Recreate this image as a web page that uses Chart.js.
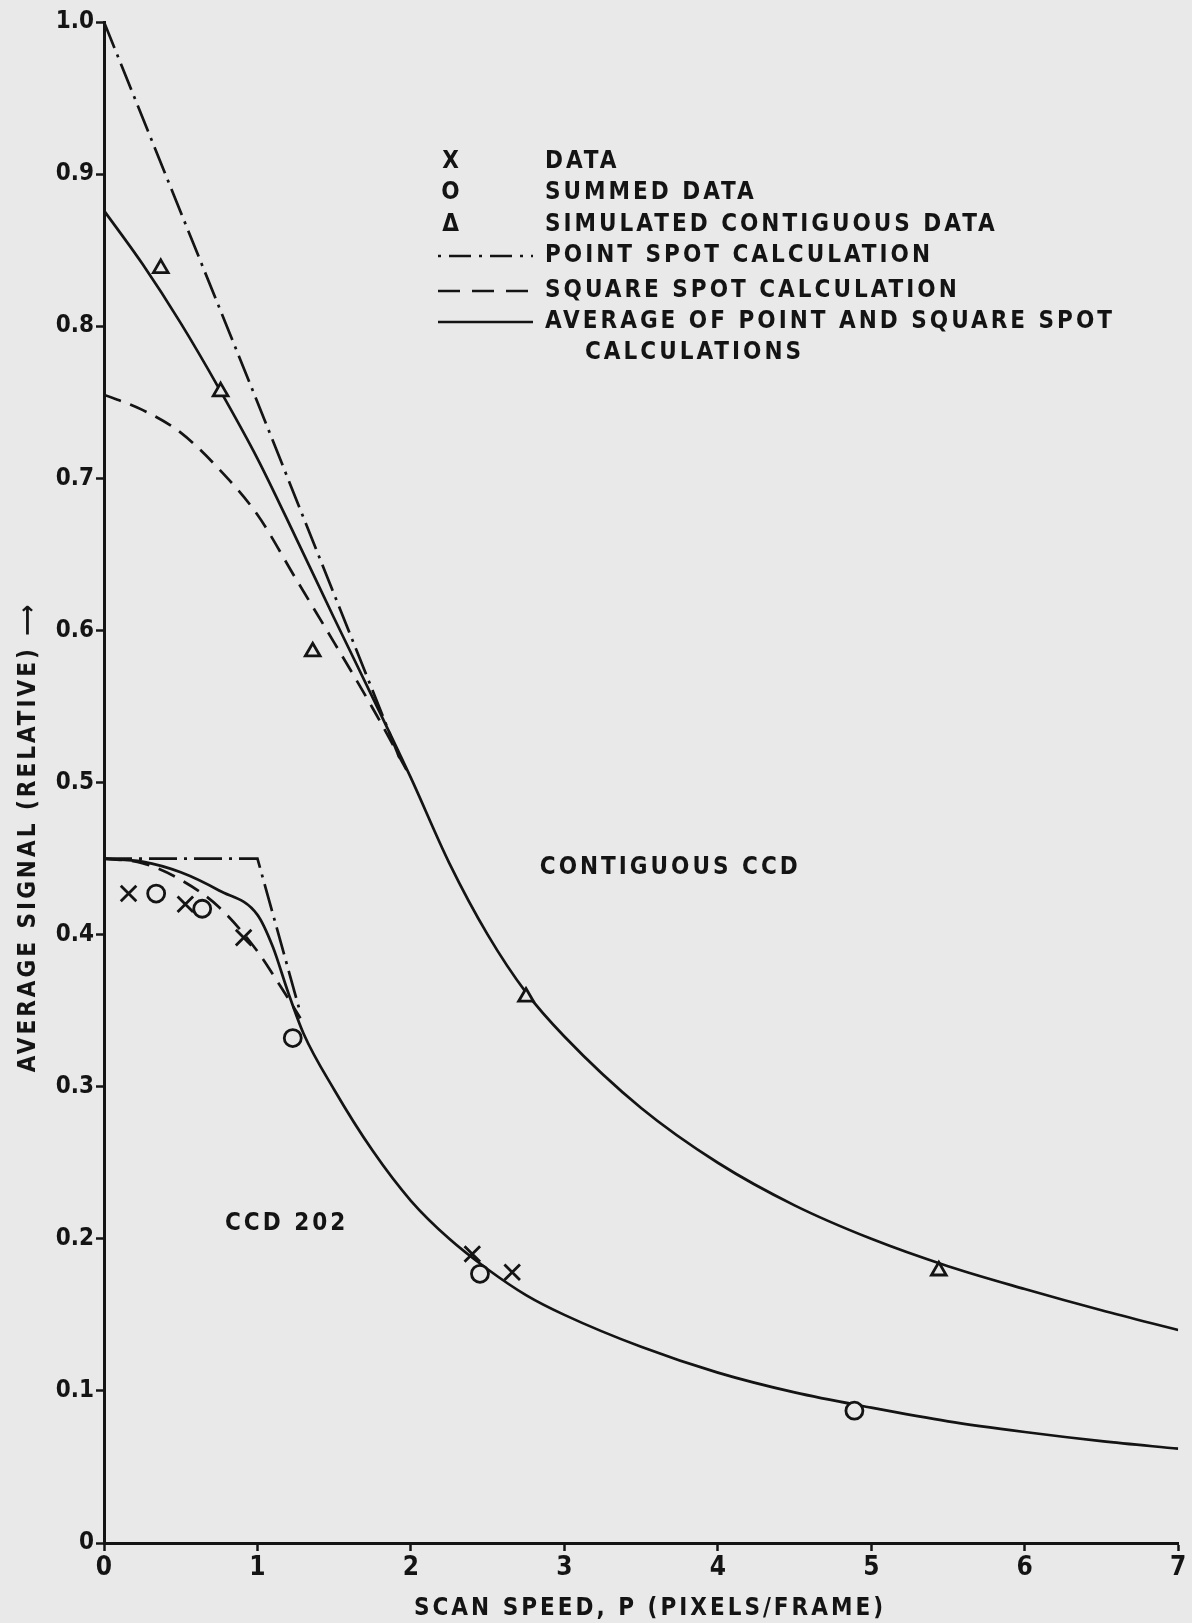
<!DOCTYPE html>
<html>
<head>
<meta charset="utf-8">
<script src="https://cdn.jsdelivr.net/npm/chart.js@4.4.1/dist/chart.umd.min.js"></script>
<style>
  html, body { margin: 0; padding: 0; background: #e9e9e9; }
  canvas { display: block; }
</style>
</head>
<body>
<canvas id="myChart" width="1192" height="1623"></canvas>
<script>
const ctx = document.getElementById("myChart");

const ink = '#141414';
const paper = '#e9e9e9';
const letterFont = '"DejaVu Sans Condensed", "DejaVu Sans", sans-serif';

// axis tick labels
const xTickLabels = ['0', '1', '2', '3', '4', '5', '6', '7'];
const yTickLabels = ['0', '0.1', '0.2', '0.3', '0.4', '0.5', '0.6', '0.7', '0.8', '0.9', '1.0'];

// measured points
const dataX = [0.16, 0.53, 0.91, 2.40, 2.66];
const dataY = [0.427, 0.42, 0.398, 0.19, 0.178];
const summedX = [0.34, 0.64, 1.23, 2.45, 4.89];
const summedY = [0.427, 0.417, 0.332, 0.177, 0.087];
const simX = [0.37, 0.76, 1.36, 2.75, 5.44];
const simY = [0.838, 0.757, 0.586, 0.359, 0.179];

// contiguous CCD calculations
const pointUpperX = [0, 1.0, 1.93];
const pointUpperY = [1.0, 0.75, 0.515];
const squareUpperX = [0, 0.25, 0.5, 0.75, 1.0, 1.25, 1.5, 1.75, 2.0];
const squareUpperY = [0.755, 0.745, 0.73, 0.706, 0.676, 0.634, 0.592, 0.549, 0.503];
const avgUpperX = [0, 0.25, 0.5, 0.75, 1.0, 1.25, 1.5, 1.75, 2.0, 2.25, 2.5, 2.75, 3.0, 3.5, 4.0, 4.5, 5.0, 5.5, 6.0, 6.5, 7.0];
const avgUpperY = [0.876, 0.841, 0.802, 0.759, 0.713, 0.661, 0.608, 0.556, 0.503, 0.447, 0.40, 0.362, 0.333, 0.286, 0.25, 0.222, 0.20, 0.182, 0.167, 0.153, 0.14];

// CCD 202 calculations
const pointLowerX = [0, 1.0, 1.27];
const pointLowerY = [0.45, 0.45, 0.352];
const squareLowerX = [0, 0.25, 0.5, 0.75, 1.0, 1.15, 1.28];
const squareLowerY = [0.45, 0.447, 0.436, 0.418, 0.389, 0.366, 0.345];
const avgLowerX = [0, 0.25, 0.5, 0.75, 1.0, 1.1, 1.2, 1.3, 1.5, 1.75, 2.0, 2.25, 2.5, 2.75, 3.0, 3.5, 4.0, 4.5, 5.0, 5.5, 6.0, 6.5, 7.0];
const avgLowerY = [0.45, 0.448, 0.441, 0.429, 0.413, 0.392, 0.362, 0.335, 0.298, 0.258, 0.225, 0.20, 0.18, 0.163, 0.15, 0.129, 0.112, 0.099, 0.089, 0.08, 0.073, 0.067, 0.062];

const pts = (xs, ys) => xs.map((x, i) => ({ x, y: ys[i] }));

const dashDot = [28, 7, 3, 7];
const dashed = [18, 10];

const marker = (label, xs, ys, style, radius, fill) => ({
    label,
    data: pts(xs, ys),
    showLine: false,
    pointStyle: style,
    pointRadius: radius,
    pointBorderWidth: 2.8,
    borderColor: ink,
    backgroundColor: fill,
    pointBackgroundColor: fill
});

const curve = (label, xs, ys, dash, smooth) => ({
    label,
    data: pts(xs, ys),
    showLine: true,
    pointRadius: 0,
    borderColor: ink,
    borderWidth: 2.7,
    borderDash: dash,
    cubicInterpolationMode: smooth ? 'monotone' : 'default',
    tension: 0
});

const data = {
    datasets: [
        marker('DATA', dataX, dataY, 'crossRot', 11, ink),
        marker('SUMMED DATA', summedX, summedY, 'circle', 8.5, paper),
        marker('SIMULATED CONTIGUOUS DATA', simX, simY, 'triangle', 8.5, paper),
        curve('POINT SPOT CALCULATION', pointUpperX, pointUpperY, dashDot, false),
        curve('POINT SPOT CALCULATION', pointLowerX, pointLowerY, dashDot, false),
        curve('SQUARE SPOT CALCULATION', squareUpperX, squareUpperY, dashed, true),
        curve('SQUARE SPOT CALCULATION', squareLowerX, squareLowerY, dashed, true),
        curve('AVERAGE OF POINT AND SQUARE SPOT', avgUpperX, avgUpperY, [], true),
        curve('AVERAGE OF POINT AND SQUARE SPOT', avgLowerX, avgLowerY, [], true)
    ]
};

// hand-lettered texts
const notes = [
    { text: 'CONTIGUOUS CCD', x: 3.69, y: 0.444 },
    { text: 'CCD 202', x: 1.19, y: 0.21 }
];
const legendRows = [
    { sym: 'X', label: 'DATA', y: 162 },
    { sym: 'O', label: 'SUMMED DATA', y: 193 },
    { sym: 'Δ', label: 'SIMULATED CONTIGUOUS DATA', y: 225 },
    { line: [3, 8, 22, 8], label: 'POINT SPOT CALCULATION', y: 256 },
    { line: [22, 12], label: 'SQUARE SPOT CALCULATION', y: 291 },
    { line: [], label: 'AVERAGE OF POINT AND SQUARE SPOT', y: 322 },
    { label: 'CALCULATIONS', y: 353, indent: 40 }
];
const xTitle = 'SCAN SPEED, P (PIXELS/FRAME)';
const yTitle = 'AVERAGE SIGNAL (RELATIVE) \u27F6';

const lettering = {
    id: 'lettering',
    afterDraw(chart) {
        const c = chart.ctx;
        const { x, y } = chart.scales;
        c.save();
        c.fillStyle = ink;
        c.strokeStyle = ink;
        c.font = 'bold 24px ' + letterFont;
        c.letterSpacing = '3px';
        c.textBaseline = 'middle';

        c.textAlign = 'center';
        notes.forEach(n => c.fillText(n.text, x.getPixelForValue(n.x), y.getPixelForValue(n.y)));

        // legend
        const symX = 452, lineL = 438, lineR = 533, textX = 545;
        legendRows.forEach(r => {
            if (r.sym) {
                c.textAlign = 'center';
                c.fillText(r.sym, symX, r.y);
            }
            if (r.line) {
                c.beginPath();
                c.lineWidth = 2.7;
                c.setLineDash(r.line);
                c.moveTo(lineL, r.y);
                c.lineTo(lineR, r.y);
                c.stroke();
                c.setLineDash([]);
            }
            c.textAlign = 'left';
            c.fillText(r.label, textX + (r.indent || 0), r.y);
        });

        // axis titles
        c.textAlign = 'center';
        c.fillText(xTitle, 650, 1609);
        c.translate(29, 837);
        c.rotate(-Math.PI / 2);
        c.fillText(yTitle, 0, 0);
        c.restore();
    }
};

const axisStyle = {
    border: { display: true, color: ink, width: 3 },
    grid: { display: true, drawOnChartArea: false, drawTicks: true, tickLength: 8, tickWidth: 2.5, tickColor: ink }
};

const config = {
    type: 'scatter',
    data: data,
    options: {
        responsive: false,
        animation: false,
        layout: { padding: { left: 0, right: 12, top: 22, bottom: 0 } },
        plugins: { legend: { display: false }, tooltip: { enabled: false } },
        scales: {
            x: {
                ...axisStyle,
                type: 'linear',
                min: 0,
                max: 7,
                ticks: {
                    stepSize: 1,
                    autoSkip: false,
                    color: ink,
                    padding: 2,
                    font: { family: letterFont, size: 26, weight: 'bold' },
                    callback: (v, i) => xTickLabels[i]
                },
                afterFit: s => { s.height = 80; }
            },
            y: {
                ...axisStyle,
                min: 0,
                max: 1,
                ticks: {
                    stepSize: 0.1,
                    autoSkip: false,
                    color: ink,
                    padding: 2,
                    font: { family: letterFont, size: 24, weight: 'bold' },
                    callback: (v, i) => yTickLabels[i]
                },
                afterFit: s => { s.width = 104; }
            }
        }
    },
    plugins: [lettering]
};

const myChart = new Chart(ctx, config);
</script>
</body>
</html>
